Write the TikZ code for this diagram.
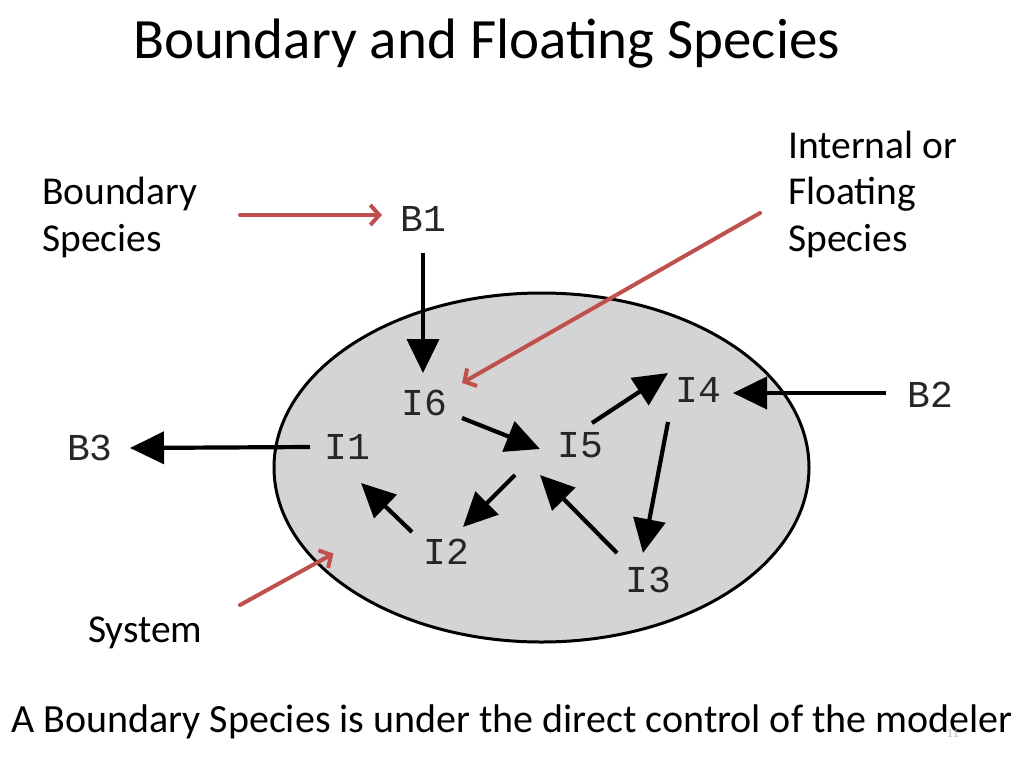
\documentclass[tikz,border=0pt]{standalone}
\usepackage{fontspec}
\setmainfont{Carlito}
\newfontfamily\spfont{Liberation Mono}
\newfontfamily\pgnfont{Liberation Serif}
\usetikzlibrary{arrows.meta,shapes.geometric}
\definecolor{pointred}{RGB}{192,80,77}
\definecolor{sysgray}{RGB}{212,212,212}

\begin{document}
\begin{tikzpicture}[x=1pt, y=-1pt,
    species/.style={font=\spfont\fontsize{38}{38}\selectfont, text=black!85, inner sep=0pt},
    note/.style={font=\fontsize{39.5}{46.5}\selectfont, align=left, inner sep=0pt, anchor=base west},
    reaction/.style={-{Triangle[length=34pt,width=32pt]}, line width=4.2pt},
    pointer/.style={-{Straight Barb[length=9pt,width=20pt]}, line width=4pt, draw=pointred, line cap=round}]
  \fill[white] (0,0) rectangle (1024,768);
  \useasboundingbox (0,0) rectangle (1024,768);

  \node[font=\fontsize{57}{57}\selectfont, anchor=base, inner sep=0pt] (title) at (486.5,59) {Boundary and Floating Species};

  % the system
  \node[ellipse, draw, line width=3pt, fill=sysgray, minimum width=535, minimum height=349] (sys) at (541.5,467.5) {};

  \node[species] (b1) at (423,219) {B1};
  \node[species] (b2) at (930,395) {B2};
  \node[species] (b3) at (90,448) {B3};
  \node[species] (i1) at (347,447) {I1};
  \node[species] (i2) at (446,552) {I2};
  \node[species] (i3) at (648,580) {I3};
  \node[species] (i4) at (698,390) {I4};
  \node[species] (i5) at (580,445) {I5};
  \node[species] (i6) at (424,403) {I6};

  \path[reaction]
    ([shift={(0,34)}]b1.center) edge ([shift={(-1,-30)}]i6.center)
    ([shift={(38,15)}]i6.center) edge ([shift={(-40,4)}]i5.center)
    ([shift={(12,-22)}]i5.center) edge ([shift={(-30,-17)}]i4.center)
    ([shift={(-30,32)}]i4.center) edge ([shift={(-5,-27)}]i3.center)
    ([shift={(-31,-27)}]i3.center) edge ([shift={(-40,30)}]i5.center)
    ([shift={(-65,30)}]i5.center) edge ([shift={(17,-25)}]i2.center)
    ([shift={(-34,-20)}]i2.center) edge ([shift={(14,36)}]i1.center)
    ([shift={(-37,0)}]i1.center) edge ([shift={(40,0)}]b3.center)
    ([shift={(-44,-2)}]b2.center) edge ([shift={(35,3)}]i4.center);

  % labels and their pointers
  \node[note] (bnd) at (42,251) {Boundary\\Species};
  \node[note] (flt) at (788,251) {Internal or\\Floating\\Species};
  \node[note] (sysl) at (88,642) {System};
  \coordinate (bndtail) at (240,215);
  \coordinate (flttail) at (760,213);
  \coordinate (systail) at (240,605);
  \draw[pointer] (bndtail) -- ([shift={(-41,-4)}]b1.center);
  \draw[pointer] (flttail) -- ([shift={(38,-20)}]i6.center);
  \draw[pointer] (systail) -- ([shift={(-208,86)}]sys.center);

  \node[font=\fontsize{40}{40}\selectfont, anchor=base west, inner sep=0pt] (remark) at (11,732) {A Boundary Species is under the direct control of the modeler};
  \node[font=\pgnfont\fontsize{12}{12}\selectfont, text=gray!60, inner sep=0pt] (pgn) at (953,734) {11};
\end{tikzpicture}
\end{document}
